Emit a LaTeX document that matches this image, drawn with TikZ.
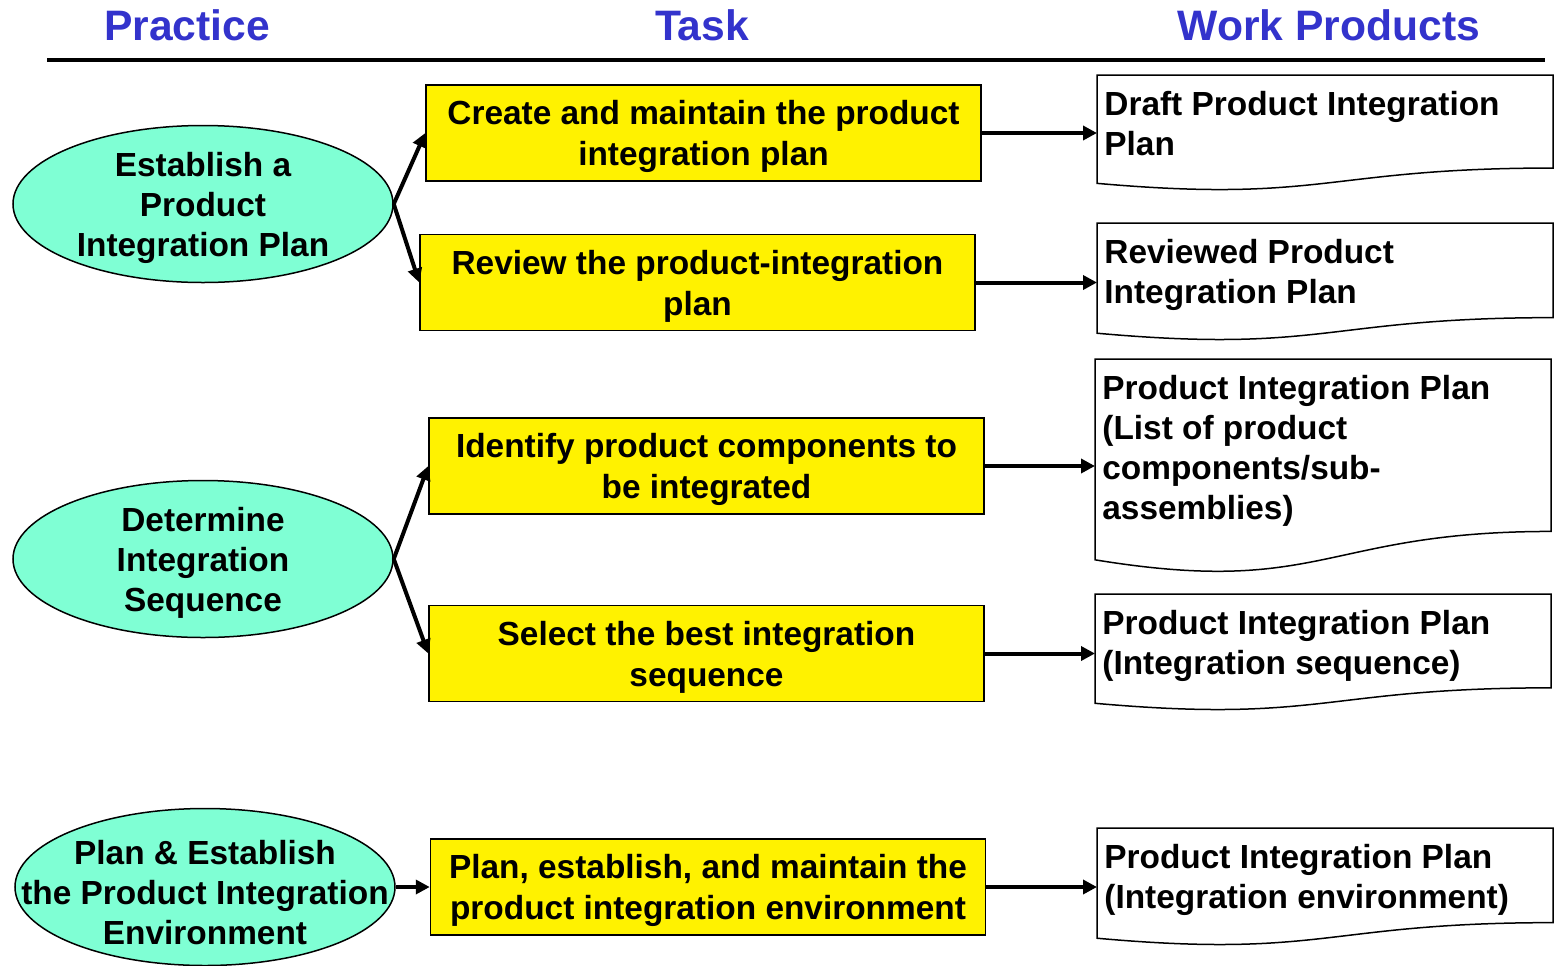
\documentclass[tikz,border=0pt]{standalone}
\usepackage{fontspec}
\setmainfont{Liberation Sans}
\usetikzlibrary{positioning}
\usetikzlibrary{shapes,arrows.meta}

\definecolor{headblue}{RGB}{51,51,204}
\definecolor{practicefill}{RGB}{127,255,212}

\tikzset{
	head/.style={text=headblue, font=\fontsize{21.3}{25}\selectfont\bfseries, anchor=base},
	practice/.style={ellipse, draw, fill=practicefill, line width=0.75pt, minimum width=190pt, minimum height=78.5pt, inner sep=-30pt, align=center, text depth=-2pt},
	task/.style={draw, fill=yellow, line width=0.75pt, minimum width=277.5pt, minimum height=48pt, align=center, text depth=0pt, font=\fontsize{16.7}{20.5}\selectfont\bfseries},
	product/.style={anchor=north west, align=left, inner xsep=3.5pt, inner ysep=8pt},
	flow/.style={draw, line width=2pt, -{Triangle[length=7pt,width=7pt]}},
	docline/.style={draw, line width=0.75pt}
}

% outline of a work product: node, width, height
\newcommand{\docframe}[3]{
	\begin{scope}[shift={(#1.north west)}]
		\path[docline] (0,0) -- (#2,0) -- (#2,{0.802*#3}) .. controls ({0.5*#2},{0.802*#3}) and ({0.5*#2},{1.1075*#3}) .. (0,{0.934*#3}) -- cycle;
	\end{scope}
}

\begin{document}
\begin{tikzpicture}[x=0.5pt, y=-0.5pt, font=\fontsize{16.7}{20}\selectfont\bfseries]
	\useasboundingbox (0,0) rectangle (1554,965);

	\node[head] (hpractice) at (187,40) {Practice};
	\node[head] (htask) at (702,40) {Task};
	\node[head] (hproducts) at (1329,40) {Work Products};
	\coordinate (rulel) at (47,60);
	\coordinate (ruler) at (1545,60);
	\path[draw, line width=2pt] (rulel) -- (ruler);

	\node[practice] (plan) at (203,204) {Establish a\\Product\\Integration Plan};
	\node[practice] (sequence) at (203,559) {Determine\\Integration\\Sequence};
	\node[practice, text height=57pt] (environment) at (205,887) {Plan \& Establish\\the Product Integration\\Environment};

	\node[task] (create) at (703.5,133) {Create and maintain the product\\integration plan};
	\node[task] (review) [below=26pt of create, xshift=-3pt] {Review the product-integration\\plan};
	\node[task] (identify) at (706.5,466) {Identify product components to\\be integrated};
	\node[task] (select) [below=45pt of identify] {Select the best integration\\sequence};
	\node[task] (maintain) [right=17pt of environment] {Plan, establish, and maintain the\\product integration environment};

	\node[product] (draft) at (1097,75) {Draft Product Integration\\Plan};
	\docframe{draft}{456}{116}
	\node[product] (reviewed) at (1097,223) {Reviewed Product\\Integration Plan};
	\docframe{reviewed}{456}{118}
	\node[product] (components) at (1095,359) {Product Integration Plan\\(List of product\\components/sub-\\assemblies)};
	\docframe{components}{456}{215}
	\node[product] (order) at (1095,594) {Product Integration Plan\\(Integration sequence)};
	\docframe{order}{456}{117}
	\node[product] (env) at (1097,828) {Product Integration Plan\\(Integration environment)};
	\docframe{env}{456}{118}

	\path[flow] (plan.east) -- (create.west);
	\path[flow] (plan.east) -- (review.west);
	\path[flow] (sequence.east) -- (identify.west);
	\path[flow] (sequence.east) -- (select.west);
	\path[flow] (environment.east) -- (maintain.west);

	\path[flow] (create.east) -- (create.east -| draft.west);
	\path[flow] (review.east) -- (review.east -| reviewed.west);
	\path[flow] (identify.east) -- (identify.east -| components.west);
	\path[flow] (select.east) -- (select.east -| order.west);
	\path[flow] (maintain.east) -- (maintain.east -| env.west);
\end{tikzpicture}
\end{document}
